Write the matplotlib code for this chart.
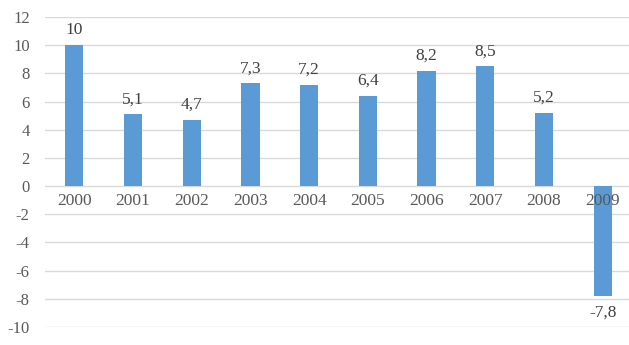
import matplotlib
matplotlib.use("Agg")
import matplotlib.pyplot as plt

# data
years = ['2000', '2001', '2002', '2003', '2004', '2005', '2006', '2007', '2008', '2009']
values = [10, 5.1, 4.7, 7.3, 7.2, 6.4, 8.2, 8.5, 5.2, -7.8]
yticks = [-10, -8, -6, -4, -2, 0, 2, 4, 6, 8, 10, 12]

plt.rcParams['font.family'] = ['Liberation Serif', 'DejaVu Serif']
text_color = '#595959'

fig = plt.figure(figsize=(6.29, 3.45), dpi=100)
ax = fig.add_axes([45 / 629, 1 - 327 / 345, (632 - 45) / 629, (327 - 17) / 345])

x = list(range(len(years)))
ax.bar(x, values, width=0.31, color='#5b9bd5', zorder=3)

ax.set_xlim(-0.5, len(years) - 0.5)
ax.set_ylim(-10, 12)
ax.set_yticks(yticks)
ax.set_yticklabels([str(t) for t in yticks], fontsize=12, color=text_color)
ax.tick_params(axis='y', length=0, pad=11)
ax.set_xticks([])
ax.grid(axis='y', color='#d9d9d9', linewidth=1, zorder=0)
for s in ax.spines.values():
    s.set_visible(False)

# year labels sit just under the zero line
for xi, yr in zip(x, years):
    ax.annotate(yr, (xi, 0), xytext=(0, -5), textcoords='offset points',
                ha='center', va='top', fontsize=12.5, color=text_color)

# value labels with decimal comma
for xi, v in zip(x, values):
    lbl = ('%g' % v).replace('.', ',')
    if v >= 0:
        ax.annotate(lbl, (xi, v), xytext=(0, 5), textcoords='offset points',
                    ha='center', va='bottom', fontsize=12.5, color='#404040')
    else:
        ax.annotate(lbl, (xi, v), xytext=(0, -6), textcoords='offset points',
                    ha='center', va='top', fontsize=12.5, color='#404040')

fig.savefig('out.png', dpi=100)
